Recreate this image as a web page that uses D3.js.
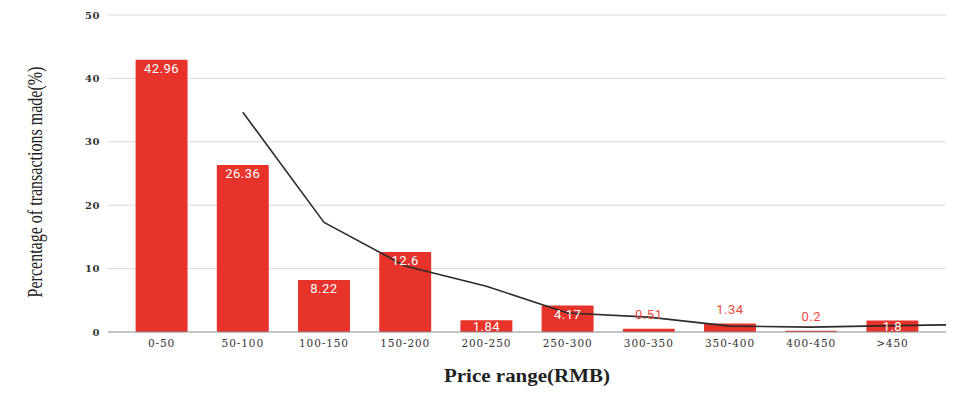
<!DOCTYPE html>
<html>
<head>
<meta charset="utf-8">
<script src="https://cdn.jsdelivr.net/npm/d3@7"></script>
<style>
    body { margin: 0; background: #fff; }
</style>
</head>
<body>
<div id="chart"></div>
<script>
const categories = ["0-50", "50-100", "100-150", "150-200", "200-250", "250-300", "300-350", "350-400", "400-450", ">450"];
const shares = [42.96, 26.36, 8.22, 12.6, 1.84, 4.17, 0.51, 1.34, 0.2, 1.8];
// moving-average trend, one point per category (first has none), then the value where it leaves the plot
const trend = [null, 34.66, 17.29, 10.41, 7.22, 3.0, 2.34, 0.93, 0.77, 1.0];
const trendEnd = 1.12;
const yTicks = [0, 10, 20, 30, 40, 50];

const colors = {
    bar: "#e8332a",
    labelOut: "#ef4a40",
    labelIn: "#ffffff",
    grid: "#dadada",
    axis: "#8a8a8a",
    line: "#2b2b2b",
    text: "#222"
};

const width = 966, height = 395;
const m = { left: 108, right: 20, top: 15, bottom: 63 };

const svg = d3.select("#chart").append("svg")
    .attr("width", width)
    .attr("height", height)
    .attr("viewBox", [0, 0, width, height]);

const x = d3.scaleBand()
    .domain(categories)
    .range([m.left, width - m.right])
    .paddingInner(0.36)
    .paddingOuter(0.34);

const y = d3.scaleLinear()
    .domain([0, 50])
    .range([height - m.bottom, m.top]);

const cx = i => x(categories[i]) + x.bandwidth() / 2;

// grid + y labels
svg.append("g")
    .selectAll("line")
    .data(yTicks.filter(d => d > 0))
    .join("line")
    .attr("x1", m.left)
    .attr("x2", width - m.right)
    .attr("y1", d => y(d))
    .attr("y2", d => y(d))
    .attr("stroke", colors.grid)
    .attr("stroke-width", 1);

svg.append("g")
    .selectAll("text")
    .data(yTicks)
    .join("text")
    .attr("x", 100)
    .attr("y", d => y(d))
    .attr("dy", "0.35em")
    .attr("text-anchor", "end")
    .attr("font-family", "DejaVu Serif")
    .attr("font-weight", "bold")
    .attr("font-size", 10)
    .attr("letter-spacing", 0.5)
    .attr("fill", "#333")
    .text(d => d);

// bars
svg.append("g")
    .selectAll("rect")
    .data(shares)
    .join("rect")
    .attr("x", (d, i) => x(categories[i]))
    .attr("y", d => y(d))
    .attr("width", x.bandwidth())
    .attr("height", d => y(0) - y(d))
    .attr("fill", colors.bar)
    .attr("rx", 1);

// baseline
svg.append("line")
    .attr("x1", m.left)
    .attr("x2", width - m.right)
    .attr("y1", y(0))
    .attr("y2", y(0))
    .attr("stroke", colors.axis)
    .attr("stroke-width", 1.2);

// x tick labels
svg.append("g")
    .selectAll("text")
    .data(categories)
    .join("text")
    .attr("x", (d, i) => cx(i))
    .attr("y", y(0) + 15)
    .attr("text-anchor", "middle")
    .attr("font-family", "DejaVu Serif")
    .attr("font-size", 10.5)
    .attr("letter-spacing", 0.9)
    .attr("fill", "#333")
    .text(d => d);

// trend line
const trendPts = trend
    .map((v, i) => v == null ? null : [cx(i), y(v)])
    .filter(p => p);
trendPts.push([width - m.right, y(trendEnd)]);

svg.append("path")
    .attr("d", d3.line()(trendPts))
    .attr("fill", "none")
    .attr("stroke", colors.line)
    .attr("stroke-width", 1.6)
    .attr("stroke-linejoin", "round");

// value labels: inside the bar when there is room, above otherwise
const outside = d => d < 1.5;
svg.append("g")
    .selectAll("text")
    .data(shares)
    .join("text")
    .attr("x", (d, i) => cx(i))
    .attr("y", d => outside(d) ? y(d) - 10 : Math.min(y(d) + 13, y(0) - 1.5))
    .attr("text-anchor", "middle")
    .attr("font-family", "Roboto")
    .attr("font-size", 13)
    .attr("letter-spacing", 0.5)
    .attr("fill", d => outside(d) ? colors.labelOut : colors.labelIn)
    .text(d => d);

// axis titles
svg.append("text")
    .attr("x", (m.left + width - m.right) / 2)
    .attr("y", 382)
    .attr("text-anchor", "middle")
    .attr("font-family", "Liberation Serif")
    .attr("font-weight", "bold")
    .attr("font-size", 18)
    .attr("textLength", 166)
    .attr("lengthAdjust", "spacingAndGlyphs")
    .attr("fill", colors.text)
    .text("Price range(RMB)");

// y title is drawn in a condensed serif: squeeze it to the reference length
const yTitle = svg.append("text")
    .attr("text-anchor", "middle")
    .attr("font-family", "Liberation Serif")
    .attr("font-size", 21)
    .attr("fill", colors.text)
    .text("Percentage of transactions made(%)");
const squeeze = 231 / yTitle.node().getComputedTextLength();
yTitle.attr("transform", `translate(42,182) rotate(-90) scale(${squeeze},1)`);
</script>
</body>
</html>
